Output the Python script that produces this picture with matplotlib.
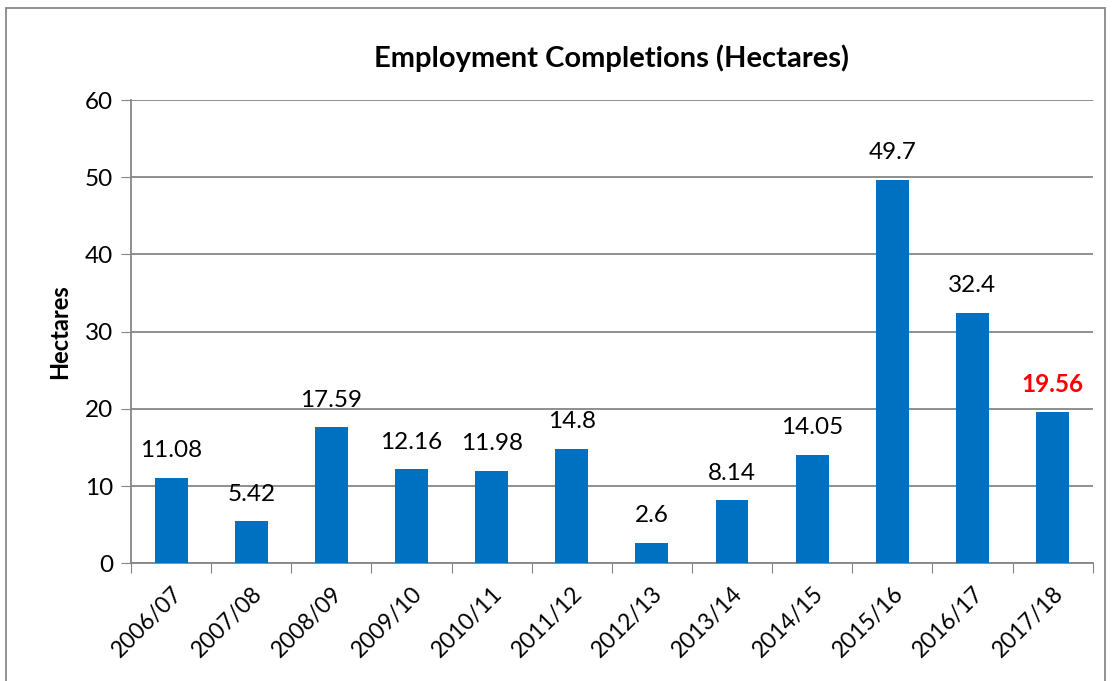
import matplotlib
matplotlib.use("Agg")
import matplotlib.pyplot as plt
from matplotlib.patches import Rectangle

# data
years = ['2006/07', '2007/08', '2008/09', '2009/10', '2010/11', '2011/12',
         '2012/13', '2013/14', '2014/15', '2015/16', '2016/17', '2017/18']
hectares = [11.08, 5.42, 17.59, 12.16, 11.98, 14.8, 2.6, 8.14, 14.05, 49.7, 32.4, 19.56]
labels = ['11.08', '5.42', '17.59', '12.16', '11.98', '14.8', '2.6', '8.14',
          '14.05', '49.7', '32.4', '19.56']

plt.rcParams['font.family'] = ['Lato', 'DejaVu Sans']

fig = plt.figure(figsize=(11.15, 6.81), dpi=100)
ax = fig.add_axes([0.1175, 0.173, 0.8625, 0.680])

x = list(range(len(years)))
ax.bar(x, hectares, width=0.41, color='#0070C0', zorder=3)

for i, (v, lab) in enumerate(zip(hectares, labels)):
    last = i == len(years) - 1
    ax.annotate(lab, (i, v), xytext=(0, 12), textcoords='offset points',
                ha='center', va='bottom', fontsize=17.5,
                color='#FF0000' if last else 'black',
                fontweight='bold' if last else 'normal')

ax.set_xlim(-0.5, len(years) - 0.5)
ax.set_ylim(0, 60)
ax.set_yticks(range(0, 61, 10))
ax.tick_params(axis='y', labelsize=17.5, length=7, color='#868686', pad=6)
ax.yaxis.grid(True, color='#868686', linewidth=1.3, zorder=0)

# category ticks sit between the bars
ax.set_xticks([i - 0.5 for i in range(len(years) + 1)], minor=False)
ax.set_xticklabels([])
ax.set_xticks(x, minor=True)
ax.set_xticklabels(years, minor=True, rotation=45, ha='right',
                   rotation_mode='anchor', fontsize=16.5)
ax.tick_params(axis='x', which='major', length=7, color='#868686')
ax.tick_params(axis='x', which='minor', length=0, pad=14)

for s in ['top', 'right']:
    ax.spines[s].set_visible(False)
for s in ['left', 'bottom']:
    ax.spines[s].set_color('#868686')
    ax.spines[s].set_linewidth(1.3)

ax.set_ylabel('Hectares', fontsize=17, fontweight='bold', labelpad=10)
ax.set_title('Employment Completions (Hectares)', fontsize=21,
             fontweight='bold', pad=24)

# outer chart border
fig.patches.append(Rectangle((0.005, -0.05), 0.986, 1.038, transform=fig.transFigure,
                             fill=False, edgecolor='#888888', linewidth=1.3))

fig.savefig('out.png', dpi=100)
